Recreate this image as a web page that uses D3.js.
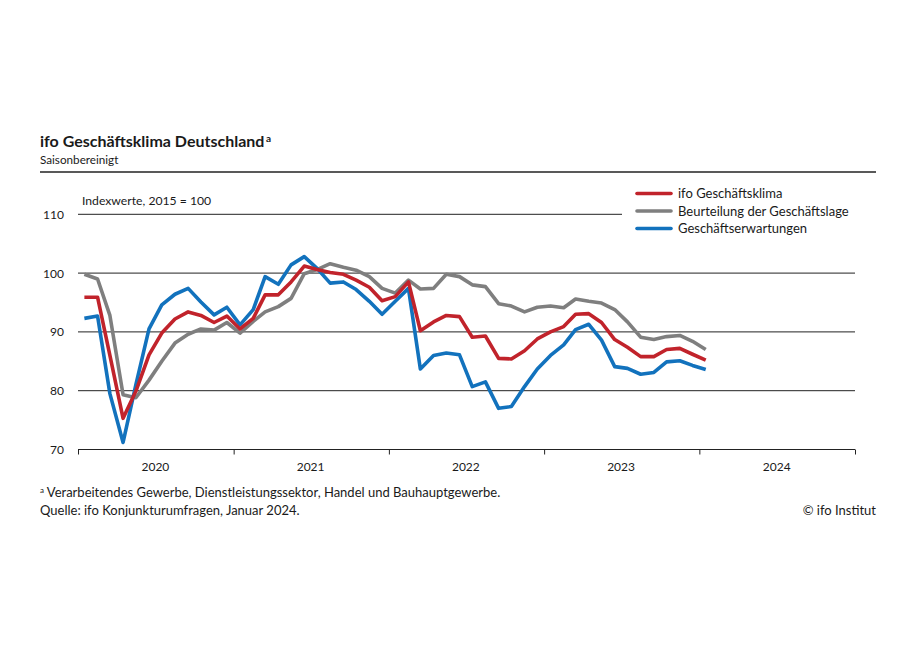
<!DOCTYPE html>
<html>
<head>
<meta charset="utf-8">
<script src="https://cdn.jsdelivr.net/npm/d3@7"></script>
<style>
  html, body { margin: 0; padding: 0; background: #fff; }
  svg { display: block; font-family: Lato, "Open Sans", sans-serif; }
</style>
</head>
<body>
<svg id="chart" width="923" height="661"></svg>
<script>
// ---- Data (monthly, Jan 2020 – Jan 2024) ----
const startYear = 2020;
const startMonth = 0; // January
const klima = [95.9, 95.9, 86.0, 75.3, 79.9, 86.1, 89.8, 92.2, 93.4, 92.8, 91.6, 92.7,
               90.5, 92.3, 96.3, 96.3, 98.5, 101.2, 100.6, 100.1, 99.8, 98.8, 97.6, 95.3,
               96.0, 98.5, 90.2, 91.7, 92.8, 92.6, 89.1, 89.3, 85.5, 85.4, 86.8, 88.8,
               90.0, 90.9, 93.0, 93.1, 91.6, 88.7, 87.4, 85.8, 85.8, 87.0, 87.2, 86.2,
               85.2];
const lage = [99.8, 99.0, 92.8, 79.3, 78.8, 81.8, 85.0, 88.1, 89.6, 90.5, 90.3, 91.6,
              89.8, 91.8, 93.4, 94.3, 95.7, 99.9, 100.6, 101.6, 101.0, 100.5, 99.4, 97.4,
              96.6, 98.8, 97.3, 97.4, 99.8, 99.4, 98.0, 97.7, 94.8, 94.4, 93.4, 94.2,
              94.4, 94.1, 95.6, 95.2, 94.9, 93.8, 91.7, 89.1, 88.7, 89.2, 89.4, 88.4,
              87.0];
const erwartungen = [92.3, 92.7, 79.5, 71.2, 81.0, 90.5, 94.6, 96.4, 97.4, 95.1, 92.9, 94.2,
                     91.2, 93.8, 99.4, 98.1, 101.4, 102.8, 100.8, 98.3, 98.5, 97.2, 95.2, 93.0,
                     95.2, 97.4, 83.7, 86.0, 86.4, 86.1, 80.7, 81.5, 77.0, 77.3, 80.7, 83.7,
                     86.0, 87.8, 90.4, 91.3, 88.6, 84.1, 83.8, 82.8, 83.1, 84.9, 85.1, 84.3,
                     83.6];
const seriesNames = ["ifo Geschäftsklima", "Beurteilung der Geschäftslage", "Geschäftserwartungen"];
const seriesColors = ["#c1232b", "#7f7f7f", "#1272bd"];
const yTicks = [70, 80, 90, 100, 110];
const years = [2020, 2021, 2022, 2023, 2024];

const titleText = "ifo Geschäftsklima Deutschland";
const subtitleText = "Saisonbereinigt";
const unitLabel = "Indexwerte, 2015 = 100";
const footnoteText = "Verarbeitendes Gewerbe, Dienstleistungssektor, Handel und Bauhauptgewerbe.";
const sourceText = "Quelle: ifo Konjunkturumfragen, Januar 2024.";
const copyrightText = "© ifo Institut";

// ---- Layout ----
const svg = d3.select("#chart");
const plotLeft = 78, plotRight = 855, plotTop = 214.3, plotBottom = 449.5;

const x = d3.scaleTime()
  .domain([new Date(years[0], 0, 1), new Date(years[years.length - 1] + 1, 0, 1)])
  .range([plotLeft, plotRight]);
const y = d3.scaleLinear().domain([70, 110]).range([plotBottom, plotTop]);

const dateOf = i => new Date(startYear, startMonth + i, 16);

// Title
const t = svg.append("text").attr("x", 40).attr("y", 147)
  .attr("font-size", 16).attr("font-weight", 700).attr("fill", "#1a1a1a");
t.append("tspan").text(titleText);
t.append("tspan").text("a").attr("font-size", 10).attr("dy", -5.5).attr("dx", 1.5);

svg.append("text").attr("x", 40).attr("y", 164).attr("font-size", 11.7)
  .attr("fill", "#1a1a1a").text(subtitleText);

svg.append("line").attr("x1", 40).attr("x2", 876).attr("y1", 172).attr("y2", 172)
  .attr("stroke", "#222").attr("stroke-width", 1.5);

svg.append("text").attr("x", 82).attr("y", 205).attr("font-size", 12.2)
  .attr("fill", "#1a1a1a").text(unitLabel);

// Gridlines
svg.append("g").selectAll("line").data(yTicks.filter(v => v > 70)).join("line")
  .attr("x1", plotLeft)
  .attr("x2", v => v === 110 ? 622 : plotRight)
  .attr("y1", v => y(v)).attr("y2", v => y(v))
  .attr("stroke", "#222").attr("stroke-width", 1);

// Y labels
svg.append("g").selectAll("text").data(yTicks).join("text")
  .attr("x", 64).attr("y", v => y(v) + 4.5)
  .attr("text-anchor", "end").attr("font-size", 12).attr("fill", "#1a1a1a")
  .text(v => v);

// X axis
const xAxis = d3.axisBottom(x)
  .tickValues(years.map(yr => new Date(yr, 0, 1)).concat([new Date(years[years.length - 1] + 1, 0, 1)]))
  .tickSize(5).tickFormat("");
const gx = svg.append("g").attr("transform", `translate(0,${plotBottom})`).call(xAxis);
gx.select(".domain").attr("stroke", "#222").attr("stroke-width", 1).attr("d", `M${plotLeft},0H${plotRight}`);
gx.selectAll(".tick line").attr("stroke", "#222");

svg.append("g").selectAll("text").data(years).join("text")
  .attr("x", yr => x(new Date(yr, 6, 1)))
  .attr("y", 471).attr("text-anchor", "middle").attr("font-size", 12).attr("fill", "#1a1a1a")
  .text(yr => yr);

// Lines
const line = d3.line().x((d, i) => x(dateOf(i))).y(d => y(d));
const drawOrder = [[lage, 1], [erwartungen, 2], [klima, 0]];
drawOrder.forEach(([data, k]) => {
  svg.append("path").datum(data).attr("d", line)
    .attr("fill", "none").attr("stroke", seriesColors[k])
    .attr("stroke-width", 3.6).attr("stroke-linejoin", "round").attr("stroke-linecap", "butt");
});

// Legend
const legend = svg.append("g");
seriesNames.forEach((name, k) => {
  const ly = 193.5 + k * 17.5;
  legend.append("line").attr("x1", 637).attr("x2", 671).attr("y1", ly).attr("y2", ly)
    .attr("stroke", seriesColors[k]).attr("stroke-width", 3.6).attr("stroke-linecap", "round");
  legend.append("text").attr("x", 678).attr("y", ly + 4.5).attr("font-size", 13)
    .attr("fill", "#1a1a1a").text(name);
});

// Footer
const fn = svg.append("text").attr("x", 40).attr("y", 497).attr("font-size", 13).attr("fill", "#1a1a1a");
fn.append("tspan").text("a").attr("font-size", 8).attr("dy", -4);
fn.append("tspan").text(" " + footnoteText).attr("dy", 4);

svg.append("text").attr("x", 40).attr("y", 515).attr("font-size", 13).attr("fill", "#1a1a1a").text(sourceText);
svg.append("text").attr("x", 876).attr("y", 515).attr("text-anchor", "end")
  .attr("font-size", 13).attr("fill", "#1a1a1a").text(copyrightText);
</script>
</body>
</html>
